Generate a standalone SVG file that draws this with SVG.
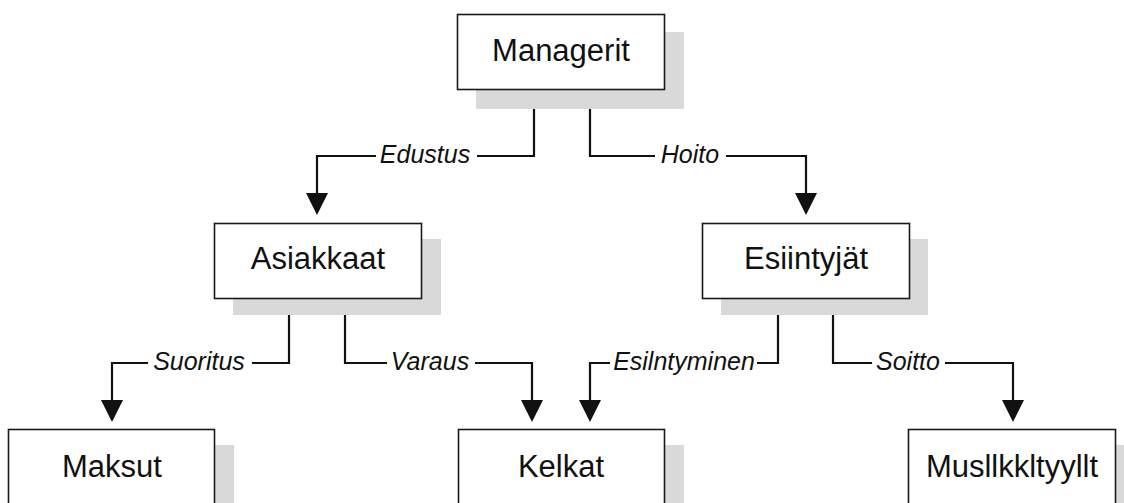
<svg xmlns="http://www.w3.org/2000/svg" width="1124" height="503" viewBox="0 0 1124 503">
  <style>
    .shadow { fill: #d9d9d9; }
    .box { fill: #ffffff; stroke: #1a1a1a; stroke-width: 1.6; }
    .name { font-family: "Liberation Sans", Arial, sans-serif; font-size: 31px; fill: #111; text-anchor: middle; }
    .wire { fill: none; stroke: #111; stroke-width: 2.2; }
    .head { fill: #111; }
    .rel { font-family: "Liberation Sans", Arial, sans-serif; font-size: 25px; font-style: italic; fill: #111; text-anchor: middle; }
  </style>
  <defs>
    <polygon id="arrowhead" class="head" points="-11,0 11,0 0,22"/>
  </defs>
  <rect width="1124" height="503" fill="#ffffff"/>

  <!-- connectors -->
  <g id="connectors">
    <!-- Managerit -> Asiakkaat -->
    <path class="wire" d="M534 89 V156 H477 M376 156 H317 V196"/>
    <use href="#arrowhead" x="317" y="193"/>
    <text class="rel" x="425" y="163">Edustus</text>
    <!-- Managerit -> Esiintyjät -->
    <path class="wire" d="M590 89 V156 H655 M726 156 H806 V196"/>
    <use href="#arrowhead" x="806" y="193"/>
    <text class="rel" x="690" y="163">Hoito</text>
    <!-- Asiakkaat -> Maksut -->
    <path class="wire" d="M289 298 V363 H252 M148 363 H112 V403"/>
    <use href="#arrowhead" x="112" y="400"/>
    <text class="rel" x="199" y="370">Suoritus</text>
    <!-- Asiakkaat -> Kelkat -->
    <path class="wire" d="M345 298 V363 H387 M475 363 H532 V403"/>
    <use href="#arrowhead" x="532" y="400"/>
    <text class="rel" x="430" y="370">Varaus</text>
    <!-- Esiintyjät -> Kelkat -->
    <path class="wire" d="M778 298 V363 H757 M610 363 H590 V403"/>
    <use href="#arrowhead" x="590" y="400"/>
    <text class="rel" x="684" y="370">Esilntyminen</text>
    <!-- Esiintyjät -> Musiikkityylit -->
    <path class="wire" d="M833 298 V363 H872 M945 363 H1013 V403"/>
    <use href="#arrowhead" x="1013" y="400"/>
    <text class="rel" x="908" y="370">Soitto</text>
  </g>

  <g id="managerit">
    <rect class="shadow" x="476" y="32" width="208" height="77"/>
    <rect class="box" x="457.5" y="14.5" width="207" height="75"/>
    <text class="name" x="561" y="61">Managerit</text>
  </g>

  <g id="asiakkaat">
    <rect class="shadow" x="233" y="239" width="208" height="76"/>
    <rect class="box" x="214.5" y="223.5" width="207" height="75"/>
    <text class="name" x="318" y="269">Asiakkaat</text>
  </g>

  <g id="esiintyjat">
    <rect class="shadow" x="721" y="239" width="207" height="76"/>
    <rect class="box" x="702.5" y="223.5" width="207" height="75"/>
    <text class="name" x="806" y="269">Esiintyjät</text>
  </g>

  <g id="maksut">
    <rect class="shadow" x="27" y="445" width="207" height="70"/>
    <rect class="box" x="8.5" y="429.5" width="206" height="80"/>
    <text class="name" x="112" y="477">Maksut</text>
  </g>

  <g id="kelkat">
    <rect class="shadow" x="477" y="445" width="207" height="70"/>
    <rect class="box" x="458.5" y="429.5" width="206" height="80"/>
    <text class="name" x="561" y="477">Kelkat</text>
  </g>

  <g id="musiikkityylit">
    <rect class="shadow" x="927" y="445" width="207" height="70"/>
    <rect class="box" x="908.5" y="429.5" width="207" height="80"/>
    <text class="name" x="1012" y="477">Musllkkltyyllt</text>
  </g>
</svg>
